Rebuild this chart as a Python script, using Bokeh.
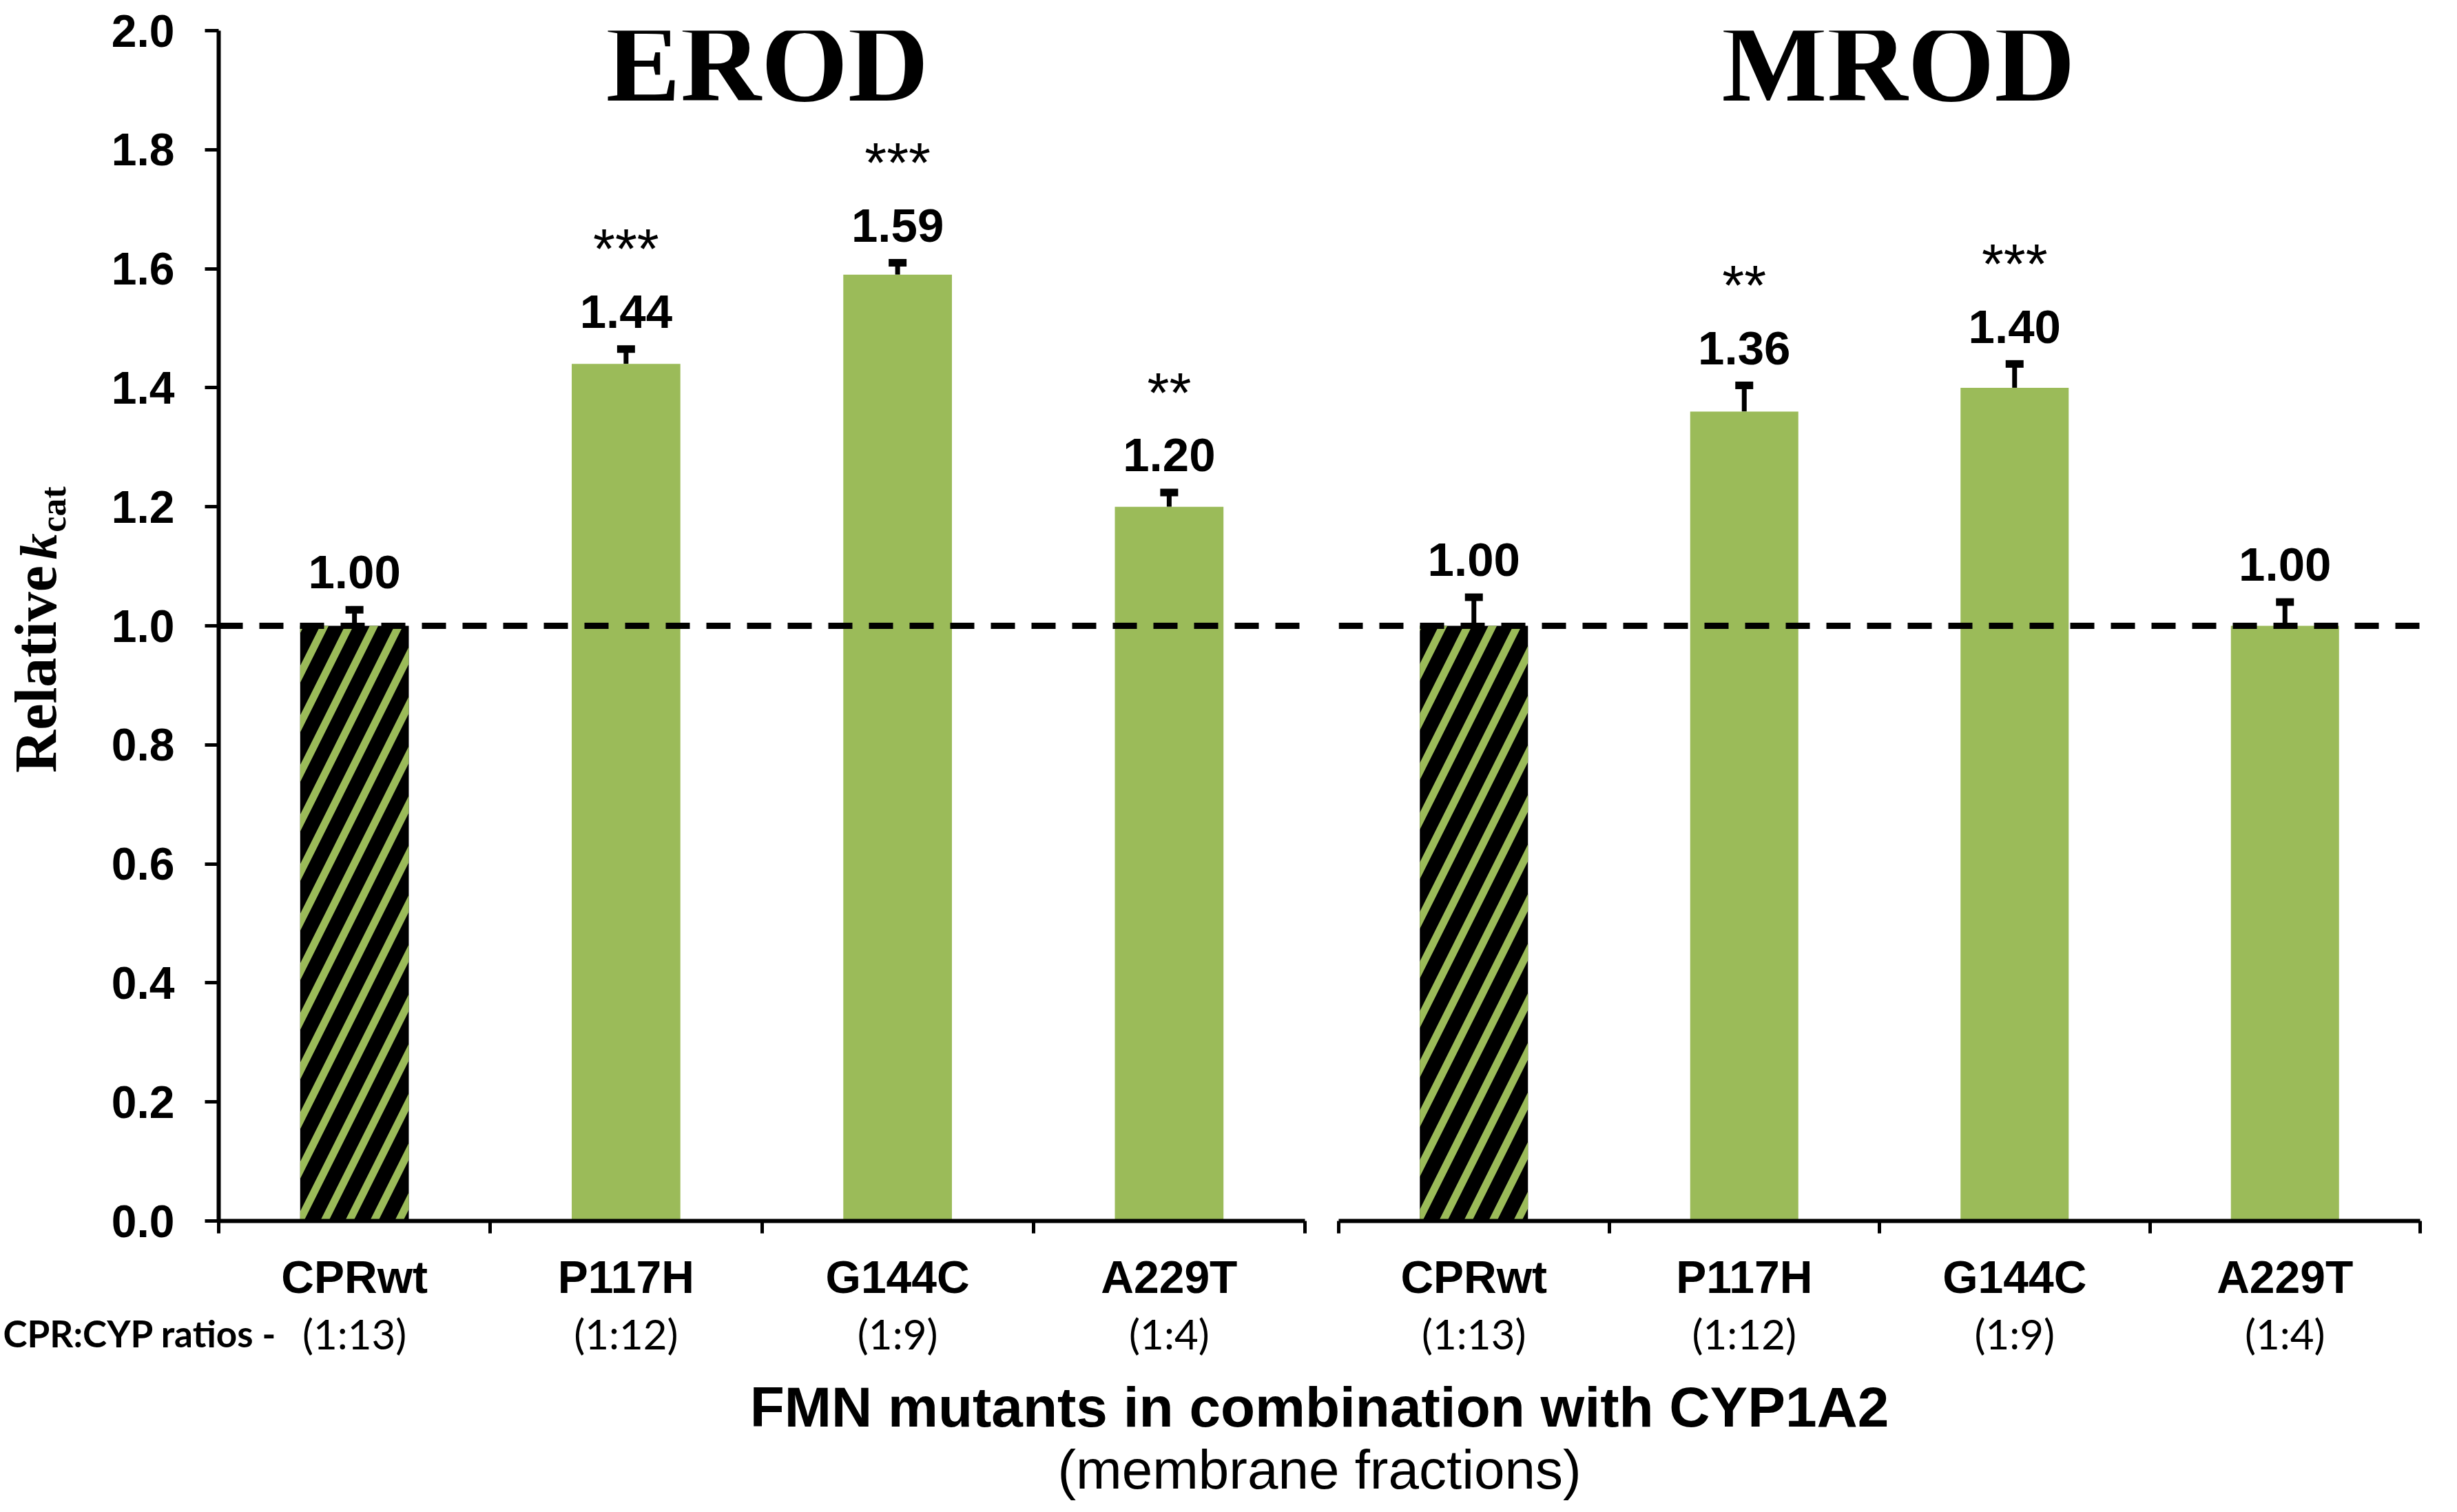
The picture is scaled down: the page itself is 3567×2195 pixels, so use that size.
import math
from bokeh.plotting import figure
from bokeh.models import (Range1d, LinearAxis, FixedTicker, Span, Whisker, TeeHead,
                          Label, ColumnDataSource, NumeralTickFormatter)
from bokeh.layouts import row, column
from bokeh.embed import file_html
from bokeh.resources import INLINE
from bokeh.core.properties import value

# ---------------- data ----------------
categories = ["CPRwt", "P117H", "G144C", "A229T"]
ratios = ["(1:13)", "(1:12)", "(1:9)", "(1:4)"]
erod_values = [1.00, 1.44, 1.59, 1.20]
erod_errors = [0.027, 0.025, 0.020, 0.024]
erod_sig = ["", "***", "***", "**"]
mrod_values = [1.00, 1.36, 1.40, 1.00]
mrod_errors = [0.048, 0.044, 0.040, 0.040]
mrod_sig = ["", "**", "***", ""]
y_ticks = [0.0, 0.2, 0.4, 0.6, 0.8, 1.0, 1.2, 1.4, 1.6, 1.8, 2.0]
reference_level = 1.0
y_title = "Relative"
y_title_italic = "k"
y_title_sub = "cat"
ratio_caption = "CPR:CYP ratios -"
x_title = "FMN mutants in combination with CYP1A2"
x_subtitle = "(membrane fractions)"

# ---------------- style / layout ----------------
GREEN = "#9BBB59"
SANS = "Liberation Sans"
SERIF = "Liberation Serif"
TOP_H = 1897          # height of the row holding the two panels
MB_TOP = 44
MB_BOTTOM = 125
FRAME_H = TOP_H - MB_TOP - MB_BOTTOM
PX_PER_Y = FRAME_H / 2.0
STRIP_W = 114
LEFT_MBL, LEFT_MBR = 203, 24
LEFT_W = 1918 - STRIP_W
RIGHT_W = 1633
RIGHT_MBL, RIGHT_MBR = 25, 38
PX_PER_X = (LEFT_W - LEFT_MBL - LEFT_MBR) / 4.0
RATIO_H = 95
BOTTOM_H = 187
BASE_SHIFT = 0.31     # em-fraction correction for alphabetic baseline
MID_SHIFT = 0.34      # em-fraction between baseline and text middle
ROT_ALONG = 0.105     # width-fraction drift of centred rotated text


def shift(px):
    return BASE_SHIFT * px / PX_PER_Y


def make_panel(title, values, errors, sig, width, mb_left, mb_right, show_y, title_x):
    xs = list(range(1, len(categories) + 1))
    p = figure(width=width, height=TOP_H,
               x_range=Range1d(0.5, len(categories) + 0.5), y_range=Range1d(0, 2),
               output_backend="svg", toolbar_location=None,
               x_axis_location=None, y_axis_location=("left" if show_y else None),
               min_border_left=mb_left, min_border_right=mb_right,
               min_border_top=MB_TOP, min_border_bottom=MB_BOTTOM,
               outline_line_color=None, background_fill_color="white",
               border_fill_color="white")
    p.grid.grid_line_color = None

    if show_y:
        ya = p.yaxis[0]
        ya.ticker = FixedTicker(ticks=y_ticks)
        ya.formatter = NumeralTickFormatter(format="0.0")
        ya.major_label_text_font = SANS
        ya.major_label_text_font_style = "bold"
        ya.major_label_text_font_size = "66px"
        ya.major_label_text_color = "black"
        ya.axis_line_width = 6
        ya.axis_line_color = "black"
        ya.major_tick_line_width = 5
        ya.major_tick_out = 20
        ya.major_tick_in = 0
        ya.minor_tick_line_color = None
        ya.major_label_standoff = 44

    ax1 = LinearAxis(ticker=FixedTicker(ticks=xs, minor_ticks=[x - 0.5 for x in xs] + [xs[-1] + 0.5]),
                     major_label_overrides={x: c for x, c in zip(xs, categories)})
    ax1.axis_line_width = 6
    ax1.axis_line_color = "black"
    ax1.major_tick_line_color = None
    ax1.major_tick_out = 0
    ax1.major_tick_in = 0
    ax1.minor_tick_line_color = "black"
    ax1.minor_tick_line_width = 5
    ax1.minor_tick_out = 18
    ax1.minor_tick_in = 0
    ax1.major_label_standoff = 26
    ax1.major_label_text_font = SANS
    ax1.major_label_text_font_style = "bold"
    ax1.major_label_text_font_size = "66px"
    ax1.major_label_text_color = "black"
    p.add_layout(ax1, "below")

    label_y = [v + e + 0.038 + shift(69) for v, e in zip(values, errors)]
    src = ColumnDataSource(dict(
        x=xs,
        top=values,
        lower=values,
        upper=[v + e for v, e in zip(values, errors)],
        fill=["black" if c == "CPRwt" else GREEN for c in categories],
        hatch=["/" if c == "CPRwt" else " " for c in categories],
        label=[f"{v:.2f}" for v in values],
        label_y=label_y,
        sig=sig,
        sig_y=[ly + 0.106 for ly in label_y],
    ))
    p.vbar(x="x", top="top", bottom=0, width=0.4, source=src,
           fill_color="fill", line_color=None,
           hatch_pattern="hatch", hatch_color=GREEN, hatch_scale=72, hatch_weight=11)

    p.add_layout(Span(location=reference_level, dimension="width", line_color="black",
                      line_width=9, line_dash="35 24"))

    p.add_layout(Whisker(source=src, base="x", lower="lower", upper="upper",
                         line_color="black", line_width=7,
                         upper_head=TeeHead(size=26, line_width=11, line_color="black"),
                         lower_head=None))

    p.text(x="x", y="label_y", text="label", source=src,
           text_font=value(SANS), text_font_style="bold", text_font_size="69px",
           text_align="center", text_baseline="alphabetic", text_color="black")
    p.text(x="x", y="sig_y", text="sig", source=src,
           text_font=value(SANS), text_font_size="82px",
           text_align="center", text_baseline="alphabetic", text_color="black")

    p.add_layout(Label(x=title_x, y=1.887 + shift(162), text=title, text_font=SERIF,
                       text_font_style="bold", text_font_size="162px",
                       text_align="center", text_baseline="alphabetic", text_color="black"))
    return p


def plain_fig(width, height, x_range, y_range, mbl=0, mbr=0):
    f = figure(width=width, height=height, x_range=x_range, y_range=y_range,
               output_backend="svg", toolbar_location=None,
               x_axis_location=None, y_axis_location=None,
               min_border_left=mbl, min_border_right=mbr, min_border_top=0, min_border_bottom=0,
               outline_line_color=None, background_fill_color="white", border_fill_color="white")
    f.grid.grid_line_color = None
    return f


left = make_panel("EROD", erod_values, erod_errors, erod_sig,
                  width=LEFT_W, mb_left=LEFT_MBL, mb_right=LEFT_MBR, show_y=True, title_x=2.52)
right = make_panel("MROD", mrod_values, mrod_errors, mrod_sig,
                   width=RIGHT_W, mb_left=RIGHT_MBL, mb_right=RIGHT_MBR, show_y=False, title_x=2.57)


def page_to_y(page_y):
    # vertical page pixel -> data value of the panels (0 sits at page y 1780)
    return (1780 - page_y) / PX_PER_Y


# strip holding the rotated y-axis title, sharing the panels' vertical mapping
strip = plain_fig(STRIP_W, TOP_H, Range1d(0, STRIP_W),
                  Range1d(-MB_BOTTOM / PX_PER_Y, 2 + MB_TOP / PX_PER_Y))
# (text, style, font px, approx. text width em, baseline page x, centre page y)
for txt, style, size, em_w, base_x, centre_y in [
        (y_title, "bold", 86, 3.499, 89, 994),
        (y_title_italic, "bold italic", 76, 0.5, 89, 826),
        (y_title_sub, "bold", 52, 1.277, 103, 764)]:
    width_px = em_w * size
    strip.add_layout(Label(x=base_x - 8 - MID_SHIFT * size,
                           y=page_to_y(centre_y + ROT_ALONG * width_px),
                           text=txt, angle=math.pi / 2, text_line_height=1.0,
                           text_font=SERIF, text_font_style=style, text_font_size=f"{size}px",
                           text_align="center", text_baseline="middle", text_color="black"))

# ratio row
xs = list(range(1, len(categories) + 1))
ratio_y = (RATIO_H - (1962 - 1905) + BASE_SHIFT * 60) / RATIO_H
left_start = 0.5 - (LEFT_MBL + STRIP_W - 4) / PX_PER_X
ratio_left = plain_fig(STRIP_W + LEFT_W, RATIO_H, Range1d(left_start, 4.5), Range1d(0, 1),
                       mbl=4, mbr=LEFT_MBR)
ratio_right = plain_fig(RIGHT_W, RATIO_H, Range1d(0.5, 4.5), Range1d(0, 1),
                        mbl=RIGHT_MBL, mbr=RIGHT_MBR)
for f in (ratio_left, ratio_right):
    f.text(x=xs, y=[ratio_y] * len(xs), text=ratios,
           text_font=value("Lato"), text_font_size="60px",
           text_align="center", text_baseline="alphabetic", text_color="black")
ratio_left.add_layout(Label(x=left_start, y=ratio_y, text=ratio_caption,
                            text_font="Lato", text_font_style="bold", text_font_size="53px",
                            text_align="left", text_baseline="alphabetic", text_color="black"))

# bottom axis titles
bottom = plain_fig(STRIP_W + LEFT_W + RIGHT_W, BOTTOM_H, Range1d(0, 1), Range1d(0, 1),
                   mbl=STRIP_W + LEFT_MBL, mbr=RIGHT_MBR)
bottom.add_layout(Label(x=0.5, y=(112 + BASE_SHIFT * 82) / BOTTOM_H, text=x_title,
                        text_font=SANS, text_font_style="bold",
                        text_font_size="82px", text_align="center", text_baseline="alphabetic",
                        text_color="black"))
bottom.add_layout(Label(x=0.5, y=(21 + BASE_SHIFT * 80) / BOTTOM_H, text=x_subtitle,
                        text_font=SANS,
                        text_font_size="80px", text_align="center", text_baseline="alphabetic",
                        text_color="black"))

layout = column(row(strip, left, right), row(ratio_left, ratio_right), bottom)
open("out.html", "w").write(file_html(layout, INLINE))
